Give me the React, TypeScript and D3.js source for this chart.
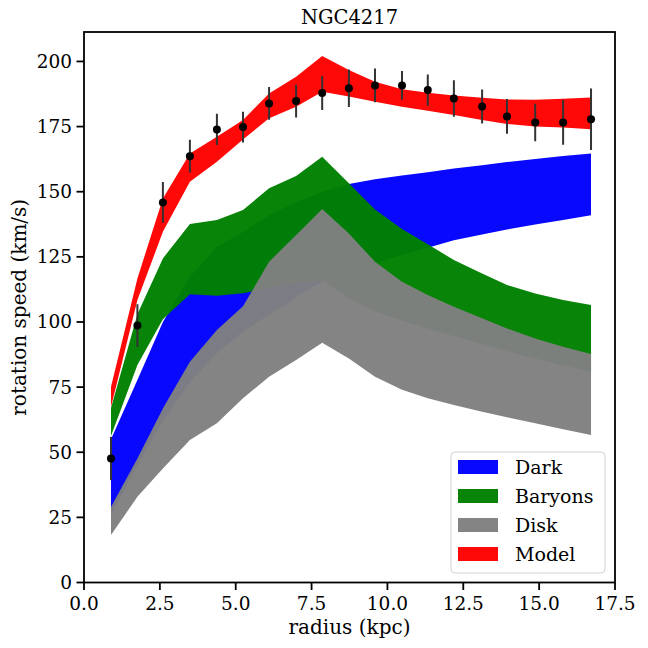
import { useMemo } from "react";
import * as d3 from "d3";

// galactocentric radius of each measured point (kpc)
const radius = [
  0.89, 1.76, 2.6, 3.49, 4.38, 5.24, 6.1, 6.99, 7.85, 8.73, 9.59, 10.48, 11.33,
  12.19, 13.12, 13.94, 14.87, 15.79, 16.71,
];

// observed rotation speed and its error (km/s)
const observed = [
  47.6, 98.6, 145.9, 163.6, 173.9, 174.8, 183.9, 184.8, 187.9, 189.7, 190.8,
  190.8, 189.0, 185.8, 182.7, 178.9, 176.6, 176.6, 177.8,
];
const observedErr = [
  8.3, 8.2, 7.8, 6.3, 6.0, 5.9, 6.3, 6.3, 6.5, 7.2, 6.5, 5.5, 6.0, 7.0, 6.5,
  6.7, 7.2, 8.6, 11.8,
];

// bands: lower / upper bound of each component
const darkLo = [
  26, 45, 62, 77, 88, 96.3, 102.8, 109.5, 115.5, 119, 122.5, 125.7, 128.5,
  131.4, 133.6, 135.5, 137.4, 139.1, 141.0,
];
const darkHi = [
  55, 77.7, 100, 117.4, 128.9, 134.5, 141, 146, 150, 153, 154.8, 156.2, 157.5,
  158.9, 160.2, 161.4, 162.6, 163.7, 164.7,
];
const baryonsLo = [
  56.2, 83.5, 101, 110.6, 110.1, 111, 113, 115, 116, 109, 104, 100.5, 97.5,
  94.5, 91.5, 88.8, 86, 83.3, 80.9,
];
const baryonsHi = [
  67, 103, 124.4, 137.6, 139.1, 143.0, 151.3, 156.0, 163.4, 153.2, 143.2,
  135.7, 129.8, 123.8, 118.6, 114.2, 110.9, 108.4, 106.5,
];
const diskLo = [
  18.2, 32.9, 43.8, 54.7, 61.1, 70.7, 79.0, 85.4, 92.0, 86.0, 79.0, 74.0, 70.7,
  68.1, 65.5, 63.4, 61.1, 58.8, 56.6,
];
const diskHi = [
  29, 47.6, 66.8, 84.7, 96.9, 106, 123.1, 133.4, 143.4, 134.0, 123.1, 115.4,
  110.4, 105.8, 101.4, 97.5, 93.7, 90.5, 87.7,
];
const modelLo = [
  67.4, 108.4, 134.6, 153.8, 161.5, 170.0, 178.2, 182.6, 188.4, 186.5, 184.5,
  182.6, 181.1, 179.4, 177.5, 176.0, 175.0, 174.6, 174.0,
];
const modelHi = [
  75.1, 116.7, 147.4, 164.7, 171.1, 177.5, 187.7, 194.1, 202.1, 196.7, 192.2,
  189.3, 188.0, 186.9, 186.1, 185.4, 185.3, 185.7, 186.2,
];

const xTicks = [0, 2.5, 5, 7.5, 10, 12.5, 15, 17.5];
const yTicks = [0, 25, 50, 75, 100, 125, 150, 175, 200];

const bands = [
  { label: "Dark", color: "#0000ff", lo: darkLo, hi: darkHi },
  { label: "Baryons", color: "#008000", lo: baryonsLo, hi: baryonsHi },
  { label: "Disk", color: "#808080", lo: diskLo, hi: diskHi },
  { label: "Model", color: "#ff0000", lo: modelLo, hi: modelHi },
];

const font = "'DejaVu Serif', serif";

const App = () => {
  const width = 648;
  const height = 648;
  const plot = { left: 84, right: 615, top: 32, bottom: 582.5 };

  const x = d3.scaleLinear().domain([0, 17.5]).range([plot.left, plot.right]);
  const y = d3.scaleLinear().domain([0, 211.3]).range([plot.bottom, plot.top]);

  const paths = useMemo(
    () =>
      bands.map((b) => {
        const area = d3
          .area<number>()
          .x((_d, i) => x(radius[i]))
          .y0((_d, i) => y(b.lo[i]))
          .y1((_d, i) => y(b.hi[i]));
        return { ...b, d: area(radius) ?? "" };
      }),
    [],
  );

  const legendX = 451;
  const legendY = 452;
  const rowGap = 29;

  return (
    <svg
      width={width}
      height={height}
      style={{ position: "absolute", left: 0, top: 0, background: "#fff" }}
      fontFamily={font}
    >
      <defs>
        <clipPath id="plot-clip">
          <rect
            x={plot.left}
            y={plot.top}
            width={plot.right - plot.left}
            height={plot.bottom - plot.top}
          />
        </clipPath>
      </defs>

      <g clipPath="url(#plot-clip)">
        {paths.map((p) => (
          <path key={p.label} d={p.d} fill={p.color} fillOpacity={0.97} />
        ))}

        {radius.map((r, i) => (
          <g key={i}>
            <line
              x1={x(r)}
              x2={x(r)}
              y1={y(observed[i] - observedErr[i])}
              y2={y(observed[i] + observedErr[i])}
              stroke="#333"
              strokeWidth={2}
            />
            <circle cx={x(r)} cy={y(observed[i])} r={4} fill="#000" />
          </g>
        ))}
      </g>

      {/* axes frame */}
      <rect
        x={plot.left}
        y={plot.top}
        width={plot.right - plot.left}
        height={plot.bottom - plot.top}
        fill="none"
        stroke="#000"
        strokeWidth={1.8}
      />

      {xTicks.map((t) => (
        <g key={t} transform={`translate(${x(t)},${plot.bottom})`}>
          <line y2={7.5} stroke="#000" strokeWidth={1.8} />
          <text y={27.5} textAnchor="middle" fontSize={18.5}>
            {t.toFixed(1)}
          </text>
        </g>
      ))}

      {yTicks.map((t) => (
        <g key={t} transform={`translate(${plot.left},${y(t)})`}>
          <line x2={-7.5} stroke="#000" strokeWidth={1.8} />
          <text x={-12} dy="0.35em" textAnchor="end" fontSize={18.5}>
            {t}
          </text>
        </g>
      ))}

      <text x={(plot.left + plot.right) / 2} y={24} textAnchor="middle" fontSize={19.5}>
        NGC4217
      </text>
      <text x={(plot.left + plot.right) / 2} y={634} textAnchor="middle" fontSize={20}>
        radius (kpc)
      </text>
      <text
        transform={`translate(26,${(plot.top + plot.bottom) / 2}) rotate(-90)`}
        textAnchor="middle"
        fontSize={20}
      >
        rotation speed (km/s)
      </text>

      {/* legend */}
      <rect
        x={legendX}
        y={legendY}
        width={154}
        height={121}
        rx={4}
        fill="#fff"
        fillOpacity={0.8}
        stroke="#d0d0d0"
      />
      {bands.map((b, i) => (
        <g key={b.label} transform={`translate(${legendX + 7},${legendY + 15 + i * rowGap})`}>
          <rect width={40} height={14} y={-7} fill={b.color} fillOpacity={0.97} />
          <text x={57} dy="0.35em" fontSize={19}>
            {b.label}
          </text>
        </g>
      ))}
    </svg>
  );
};

export default App;
